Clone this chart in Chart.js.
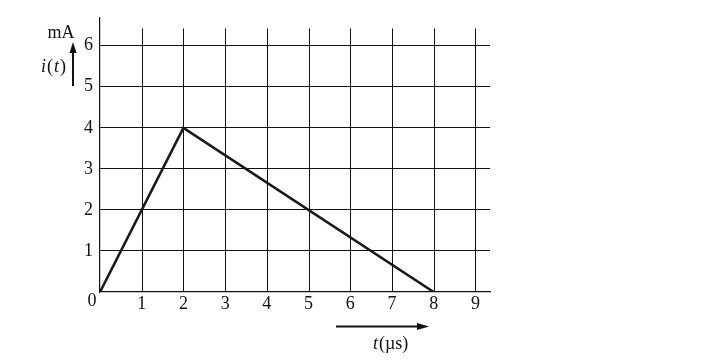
<!DOCTYPE html>
<html>
<head>
<meta charset="utf-8">
<script src="https://cdn.jsdelivr.net/npm/chart.js@4/dist/chart.umd.min.js"></script>
<style>
  body { margin: 0; background: #fff; }
  #wrap { width: 720px; height: 361px; }
</style>
</head>
<body>
<div id="wrap"><canvas id="grafica" width="720" height="361"></canvas></div>
<script>
// data
const tiempos = [0, 2, 8];        // t in µs
const corriente = [0, 4, 0];      // i(t) in mA
const xTicks = [0, 1, 2, 3, 4, 5, 6, 7, 8, 9];
const yTicks = [1, 2, 3, 4, 5, 6];

const xMax = 9.35;
const yMax = 6.68;
const gridTop = 6.42;   // vertical grid lines stop here
const fuente = '"Liberation Serif", "DejaVu Serif", serif';

const extras = {
  id: 'extras',
  beforeDatasetsDraw(chart) {
    const c = chart.ctx;
    const x = chart.scales.x, y = chart.scales.y;
    c.save();
    c.strokeStyle = '#111';
    c.lineWidth = 1;
    xTicks.forEach(v => {
      if (v === 0) return;
      const px = Math.round(x.getPixelForValue(v)) + 0.5;
      c.beginPath();
      c.moveTo(px, y.getPixelForValue(0));
      c.lineTo(px, y.getPixelForValue(gridTop));
      c.stroke();
    });
    c.restore();
  },
  afterDraw(chart) {
    const c = chart.ctx;
    const x = chart.scales.x;
    c.save();
    c.fillStyle = '#111';
    c.strokeStyle = '#111';
    c.font = '18px ' + fuente;
    c.textAlign = 'center';
    c.textBaseline = 'middle';
    // origin label
    c.fillText('0', x.getPixelForValue(0) - 8, 301);

    // y axis label and arrow
    c.fillText('mA', 61, 33);
    c.textAlign = 'left';
    c.font = 'italic 18px ' + fuente;
    c.fillText('i', 41, 67);
    c.font = '18px ' + fuente;
    c.fillText('(', 47, 67);
    c.font = 'italic 18px ' + fuente;
    c.fillText('t', 54, 67);
    c.font = '18px ' + fuente;
    c.fillText(')', 60, 67);

    c.lineWidth = 2;
    c.beginPath();
    c.moveTo(73, 86);
    c.lineTo(73, 50);
    c.stroke();
    c.beginPath();
    c.moveTo(73, 42);
    c.lineTo(69.5, 53);
    c.lineTo(76.5, 53);
    c.closePath();
    c.fill();

    // x axis arrow and label
    c.beginPath();
    c.moveTo(336, 326.5);
    c.lineTo(420, 326.5);
    c.stroke();
    c.beginPath();
    c.moveTo(429, 326.5);
    c.lineTo(417, 323);
    c.lineTo(417, 330);
    c.closePath();
    c.fill();

    c.font = 'italic 18px ' + fuente;
    c.fillText('t', 373, 344);
    c.font = '18px ' + fuente;
    c.fillText('(µs)', 379, 344);
    c.restore();
  }
};

const ctx = document.getElementById('grafica').getContext('2d');
const myChart = new Chart(ctx, {
  type: 'line',
  data: {
    datasets: [{
      data: tiempos.map((t, i) => ({ x: t, y: corriente[i] })),
      borderColor: '#1a1a1a',
      borderWidth: 2.6,
      pointRadius: 0,
      tension: 0,
      fill: false
    }]
  },
  options: {
    responsive: false,
    animation: false,
    events: [],
    layout: { padding: { left: 0, right: 230, top: 13, bottom: 0 } },
    plugins: { legend: { display: false }, tooltip: { enabled: false } },
    scales: {
      x: {
        type: 'linear',
        min: 0,
        max: xMax,
        afterBuildTicks: s => { s.ticks = xTicks.map(v => ({ value: v })); },
        afterFit: s => { s.height = 69; },
        grid: { display: false, drawTicks: false },
        border: { display: true, color: '#111', width: 1.2 },
        ticks: {
          padding: 1,
          color: '#111',
          font: { family: fuente, size: 18 },
          callback: v => (v === 0 ? '' : String(v))
        }
      },
      y: {
        type: 'linear',
        min: 0,
        max: yMax,
        afterBuildTicks: s => { s.ticks = yTicks.map(v => ({ value: v })); },
        afterFit: s => { s.width = 100; },
        grid: { color: '#111', lineWidth: 1, drawTicks: false },
        border: { display: true, color: '#111', width: 1.2 },
        ticks: {
          padding: 7,
          color: '#111',
          font: { family: fuente, size: 18 }
        }
      }
    }
  },
  plugins: [extras]
});
</script>
</body>
</html>
